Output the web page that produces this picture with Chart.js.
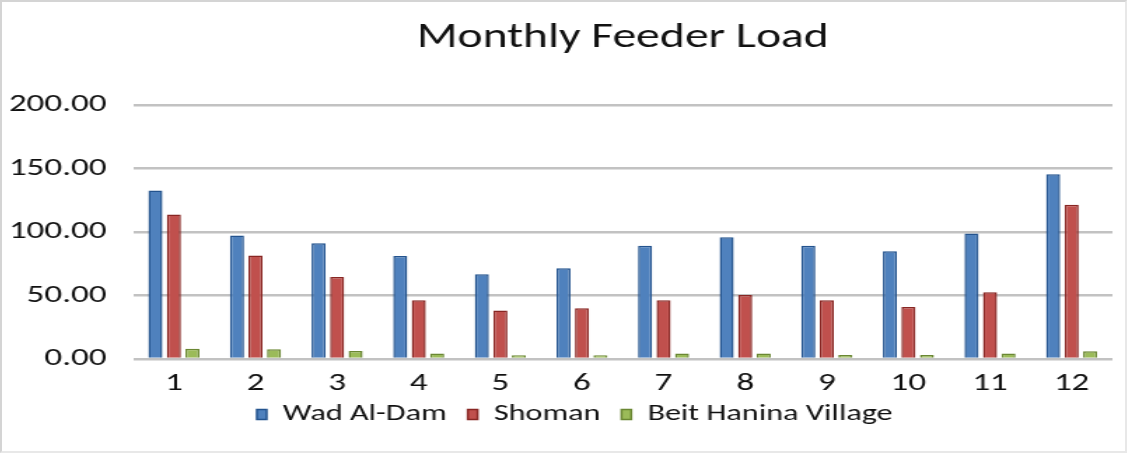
<!DOCTYPE html>
<html lang="en">
<head>
  <meta charset="UTF-8" />
  <title>Monthly Feeder Load</title>
  <script src="https://cdn.jsdelivr.net/npm/chart.js"></script>
  <style>
    html, body { margin: 0; padding: 0; background: #fff; overflow: hidden; }
    .frame {
      width: 1127px; height: 453px; box-sizing: border-box; overflow: hidden;
      border: 2px solid #d4d4d4; border-right-color: #e8e8e8; border-bottom-color: #e8e8e8;
    }
    /* the reference picture is stretched sideways, so the canvas is too */
    #feederChart { transform: scaleX(1.4003); transform-origin: 0 0; }
  </style>
</head>
<body>
  <div class="frame">
    <canvas id="feederChart" width="802" height="449"></canvas>
  </div>

  <script>
    // Data
    const months = ['1', '2', '3', '4', '5', '6', '7', '8', '9', '10', '11', '12'];
    const wadAlDam = [132.5, 97.2, 91.0, 81.0, 66.6, 71.4, 89.1, 95.7, 89.1, 84.7, 98.8, 145.3];
    const shoman = [113.7, 81.5, 64.6, 46.3, 38.2, 40.0, 46.3, 50.4, 46.3, 41.0, 52.5, 121.3];
    const beitHanina = [8.1, 7.6, 6.3, 4.4, 2.9, 2.9, 4.4, 4.4, 3.1, 3.1, 4.4, 6.0];
    const yTicks = [0, 50, 100, 150, 200];

    const font = 'Calibri, "Open Sans", "Noto Sans", sans-serif';

    new Chart(document.getElementById('feederChart'), {
      type: 'bar',
      data: {
        labels: months,
        datasets: [
          { label: 'Wad Al-Dam', data: wadAlDam, backgroundColor: '#4f81bd', borderColor: '#23538e', borderWidth: 1.5 },
          { label: 'Shoman', data: shoman, backgroundColor: '#c0504d', borderColor: '#882623', borderWidth: 1.5 },
          { label: 'Beit Hanina Village', data: beitHanina, backgroundColor: '#9bbb59', borderColor: '#6a8733', borderWidth: 1.5 }
        ]
      },
      options: {
        responsive: false,
        animation: false,
        categoryPercentage: 0.68,
        barPercentage: 0.76,
        // left padding pushes the legend a bit right, the y axis box is shrunk to match
        layout: { padding: { left: 25, right: 9, top: 0, bottom: 15 } },
        scales: {
          x: {
            grid: { display: false },
            border: { display: false },
            // legend sits tight under the month numbers, so shrink the axis box
            // and stop it clipping its own labels
            afterFit: (axis) => {
              axis.height -= 13;
              axis._computeLabelArea = () => null;
            },
            ticks: { color: '#111', font: { family: font, size: 25 }, padding: 2 }
          },
          y: {
            min: 0,
            max: 200,
            afterBuildTicks: (axis) => { axis.ticks = yTicks.map(v => ({ value: v })); },
            afterFit: (axis) => {
              axis.width = 68.6;
              axis._computeLabelArea = () => null;
            },
            grid: { color: '#c2c2c2', lineWidth: 2.5, drawTicks: false },
            border: { display: false },
            ticks: {
              color: '#111',
              padding: 19,
              font: { family: font, size: 25 },
              callback: (v) => Number(v).toFixed(2)
            }
          }
        },
        plugins: {
          title: {
            display: true,
            fullSize: false,
            text: 'Monthly Feeder Load',
            color: '#111',
            font: { family: font, size: 34, weight: 'normal' },
            padding: { top: 16, bottom: 46 }
          },
          legend: {
            position: 'bottom',
            labels: {
              color: '#111',
              boxWidth: 7,
              boxHeight: 10,
              padding: 15,
              font: { family: font, size: 23 }
            }
          },
          tooltip: { enabled: false }
        }
      }
    });
  </script>
</body>
</html>
